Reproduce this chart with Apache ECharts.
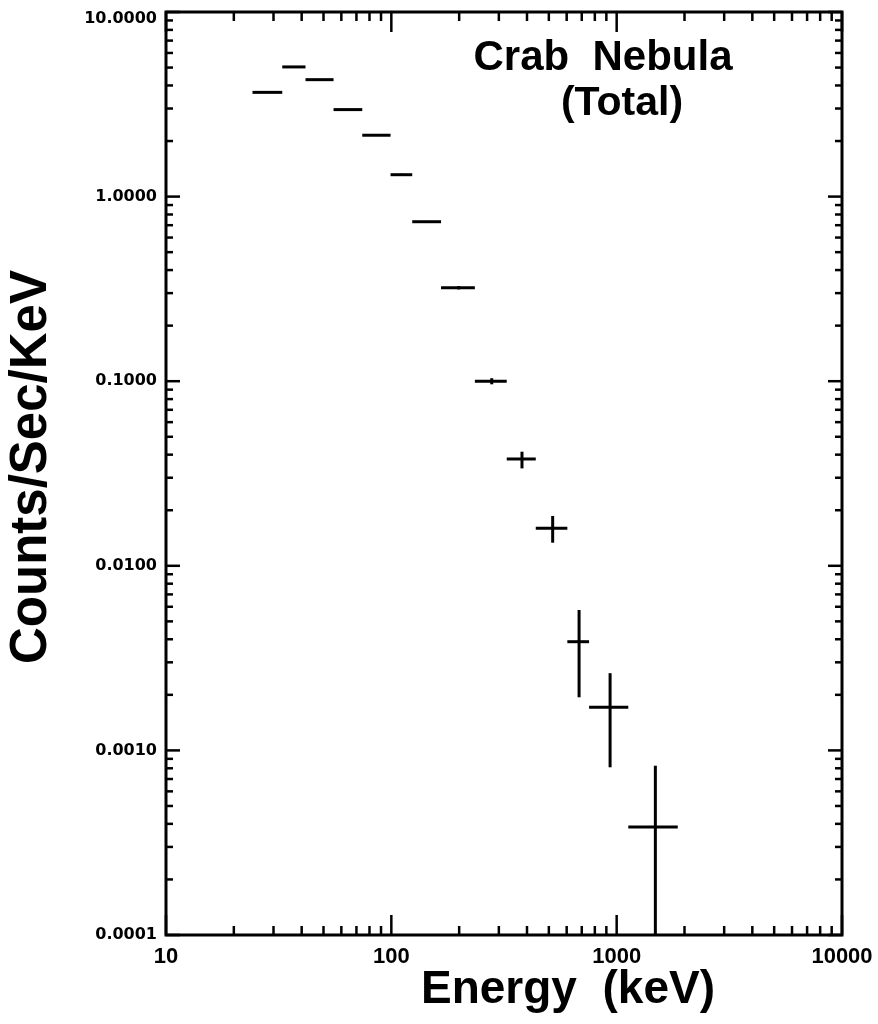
<!DOCTYPE html>
<html>
<head>
<meta charset="utf-8">
<script src="https://cdn.jsdelivr.net/npm/echarts@6/dist/echarts.min.js"></script>
<style>
  html, body { margin: 0; padding: 0; background: #fff; }
  #chart { width: 878px; height: 1024px; }
</style>
</head>
<body>
<div id="chart"></div>
<script>
// Crab Nebula total spectrum: energy bins (keV) and count rates (counts/s/keV)
const binLow  = [24.2, 32.8, 41.6, 55.4, 74.3, 99.2, 123.8, 166.2, 234.8, 325.2, 437.5, 604.1, 754.3, 1126];
const binHigh = [32.8, 41.6, 55.4, 74.3, 99.2, 123.8, 166.2, 234.8, 325.2, 437.5, 604.1, 754.3, 1126, 1867];
const binMid  = [28.2, 36.9, 48.0, 64.2, 85.9, 110.8, 143.4, 199.0, 279, 380, 520, 681, 935, 1485];
const rate    = [3.67, 5.04, 4.30, 2.96, 2.15, 1.314, 0.731, 0.321, 0.0999, 0.0379, 0.01596, 0.00388, 0.001712, 0.000385];
const rateLow = [3.67, 5.04, 4.30, 2.94, 2.13, 1.30, 0.724, 0.314, 0.0962, 0.0337, 0.01334, 0.00194, 0.00081, 0.00005];
const rateHigh= [3.67, 5.04, 4.30, 2.98, 2.17, 1.33, 0.738, 0.328, 0.1038, 0.0415, 0.01862, 0.00576, 0.00262, 0.000826];

// axis ranges and tick labels
const xMin = 10, xMax = 10000;
const yMin = 0.0001, yMax = 10;
const xTickLabels = {10: '10', 100: '100', 1000: '1000', 10000: '10000'};
const yTickLabels = {10: '10.0000', 1: '1.0000', 0.1: '0.1000', 0.01: '0.0100', 0.001: '0.0010', 0.0001: '0.0001'};

// tick positions (decades and 2..9 within each decade)
function logTicks(min, max) {
  const out = [];
  for (let d = Math.round(Math.log10(min)); d < Math.round(Math.log10(max)); d++) {
    for (let m = 1; m <= 9; m++) out.push({v: m * Math.pow(10, d), major: m === 1});
  }
  out.push({v: max, major: true});
  return out;
}
const xTicks = logTicks(xMin, xMax);
const yTicks = logTicks(yMin, yMax);

const spectrum = binMid.map((e, i) => [e, rate[i], binLow[i], binHigh[i], rateLow[i], rateHigh[i]]);

const chart = echarts.init(document.getElementById('chart'), null, {renderer: 'canvas'});

const lineStyle = {stroke: '#000', lineWidth: 3, lineCap: 'butt'};
const boldFont = '"Liberation Sans", Arial, sans-serif';

chart.setOption({
  animation: false,
  backgroundColor: '#fff',
  grid: {
    left: 166, top: 12, width: 676, height: 923,
    containLabel: false, outerBoundsMode: 'none',
    show: true, borderColor: '#000', borderWidth: 3, backgroundColor: 'transparent'
  },
  xAxis: {
    type: 'log', logBase: 10, min: xMin, max: xMax,
    axisLine: {show: false},
    axisTick: {show: false},
    splitLine: {show: false},
    axisLabel: {
      margin: 11, color: '#000', fontFamily: boldFont, fontWeight: 'bold', fontSize: 22,
      formatter: v => xTickLabels[Math.round(v)] || ''
    }
  },
  yAxis: {
    type: 'log', logBase: 10, min: yMin, max: yMax,
    axisLine: {show: false},
    axisTick: {show: false},
    splitLine: {show: false},
    axisLabel: {
      margin: 9, color: '#000', fontFamily: 'DejaVu Sans', fontWeight: 'bold', fontSize: 16,
      formatter: v => {
        for (const k in yTickLabels) {
          if (Math.abs(Math.log10(v) - Math.log10(+k)) < 1e-6) {
            // the top label sits just below the frame corner
            return +k === yMax ? '{top|' + yTickLabels[k] + '}' : yTickLabels[k];
          }
        }
        return '';
      },
      rich: {top: {fontFamily: 'DejaVu Sans', fontWeight: 'bold', fontSize: 16, color: '#000', padding: [14, 0, 0, 0]}}
    }
  },
  graphic: [
    {type: 'text', x: 603, y: 58, style: {text: 'Crab  Nebula', fill: '#000', font: 'bold 42px ' + boldFont, align: 'center', verticalAlign: 'middle'}},
    {type: 'text', x: 622, y: 104, style: {text: '(Total)', fill: '#000', font: 'bold 41px ' + boldFont, align: 'center', verticalAlign: 'middle'}},
    {type: 'text', x: 568, y: 990, style: {text: 'Energy  (keV)', fill: '#000', font: 'bold 46px ' + boldFont, align: 'center', verticalAlign: 'middle'}},
    {type: 'text', x: 32, y: 467, rotation: Math.PI / 2, style: {text: 'Counts/Sec/KeV', fill: '#000', font: 'bold 51px ' + boldFont, align: 'center', verticalAlign: 'middle'}}
  ],
  series: [
    {
      // inward ticks on bottom and top edges
      type: 'custom', silent: true, clip: false,
      data: xTicks.map(t => [t.v, t.major ? 1 : 0]),
      renderItem: (params, api) => {
        const cs = params.coordSys;
        const x = api.coord([api.value(0), yMax])[0];
        const len = api.value(1) ? 20 : 9;
        const style = {stroke: '#000', lineWidth: 2.5};
        return {type: 'group', children: [
          {type: 'line', shape: {x1: x, y1: cs.y + cs.height, x2: x, y2: cs.y + cs.height - len}, style},
          {type: 'line', shape: {x1: x, y1: cs.y, x2: x, y2: cs.y + len}, style}
        ]};
      }
    },
    {
      // inward ticks on left and right edges
      type: 'custom', silent: true, clip: false,
      data: yTicks.map(t => [t.v, t.major ? 1 : 0]),
      renderItem: (params, api) => {
        const cs = params.coordSys;
        const y = api.coord([xMin, api.value(0)])[1];
        const len = api.value(1) ? 14 : 7;
        const style = {stroke: '#000', lineWidth: 2.5};
        return {type: 'group', children: [
          {type: 'line', shape: {x1: cs.x, y1: y, x2: cs.x + len, y2: y}, style},
          {type: 'line', shape: {x1: cs.x + cs.width, y1: y, x2: cs.x + cs.width - len, y2: y}, style}
        ]};
      }
    },
    {
      // spectrum: bin width (horizontal) and error range (vertical)
      type: 'custom', silent: true,
      data: spectrum,
      encode: {x: 0, y: 1},
      renderItem: (params, api) => {
        const cs = params.coordSys;
        const yc = api.coord([api.value(0), api.value(1)]);
        const pLo = api.coord([api.value(2), api.value(1)]);
        const pHi = api.coord([api.value(3), api.value(1)]);
        const eLo = api.coord([api.value(0), api.value(4)]);
        const eHi = api.coord([api.value(0), api.value(5)]);
        const bottom = cs.y + cs.height;
        const children = [
          {type: 'line', shape: {x1: pLo[0], y1: yc[1], x2: pHi[0], y2: yc[1]}, style: lineStyle}
        ];
        const y1 = Math.min(eLo[1], bottom), y2 = Math.max(eHi[1], cs.y);
        if (y1 - y2 > 0.5) {
          children.push({type: 'line', shape: {x1: yc[0], y1: y1, x2: yc[0], y2: y2}, style: lineStyle});
        }
        return {type: 'group', children};
      }
    }
  ]
});
</script>
</body>
</html>
